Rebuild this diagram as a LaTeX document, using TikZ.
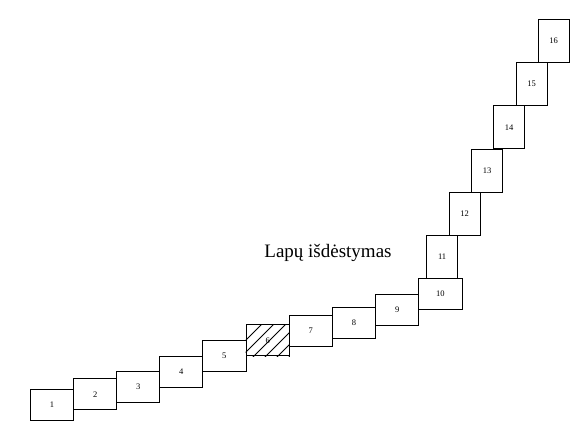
\documentclass[tikz,border=0pt]{standalone}
\usepackage{fontspec}
\setmainfont{Liberation Serif}
\usepackage{tikz}
\usetikzlibrary{positioning}
\tikzset{
  wide/.style={rectangle, draw=black, line width=0.8pt, minimum width=43.3pt, minimum height=31pt, inner sep=0pt, font=\fontsize{8.5}{9}\selectfont},
  tall/.style={wide, minimum width=31pt, minimum height=43pt},
  hatch/.style={line width=0.8pt, black},
}
\begin{document}
\begin{tikzpicture}[x=1pt, y=-1pt]
\useasboundingbox (0,0) rectangle (573,428);
\node[wide] (p1) at (52,404.7) {1};
\node[wide] (p2) at (95.2,394.3) {2};
\node[wide] (p3) at (138.2,386.7) {3};
\node[wide] (p4) at (181.2,371.5) {4};
\node[wide] (p5) at (224.3,355.8) {5};
\node[wide] (p6) at (267.7,340.3) {};
\node[wide] (p7) at (310.7,330.5) {7};
\node[wide] (p8) at (354,322.8) {8};
\node[wide] (p9) at (397.2,309.7) {9};
\node[wide] (p10) at (440.3,293.8) {10};
\node[tall] (p11) at (442.1,256.8) {11};
\node[tall] (p12) at (464.7,213.8) {12};
\node[tall] (p13) at (487,170.7) {13};
\node[tall] (p14) at (509.2,127.3) {14};
\node[tall] (p15) at (531.7,84) {15};
\node[tall] (p16) at (553.7,40.8) {16};
% hatched page
\begin{scope}
  \clip (p6.south west) rectangle (p6.north east);
  \foreach \c in {226,238,...,298}
    \draw[hatch] (\c,360) -- ++(40,-40);
\end{scope}
\node[font=\fontsize{8.5}{9}\selectfont] at (p6) {6};
\node[font=\fontsize{19}{21}\selectfont] (title) at (328,253) {Lapų išdėstymas};
\end{tikzpicture}
\end{document}
